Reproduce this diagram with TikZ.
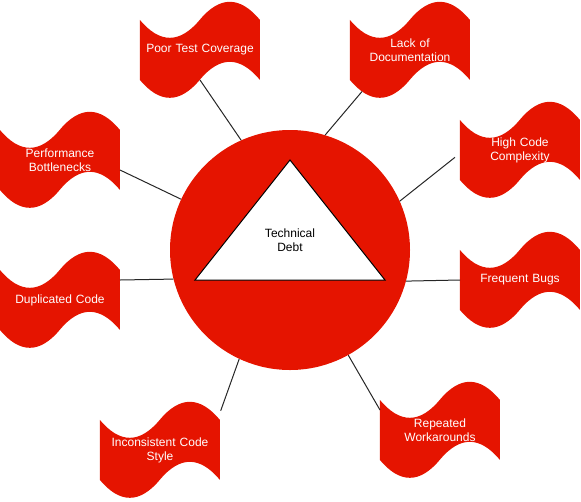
\documentclass[tikz,border=0pt]{standalone}
\usepackage{fontspec}
\setmainfont{Liberation Sans}
\usetikzlibrary{backgrounds}
\definecolor{tdred}{HTML}{E51400}

\tikzset{
    label text/.style = {font=\fontsize{12}{14}\selectfont, align=center},
    flag/.style = {label text, text=white, minimum width=120pt, minimum height=100pt,
        inner sep=0pt, text width=110pt},
}

\begin{document}
\begin{tikzpicture} [x=1pt, y=-1pt]
    \useasboundingbox (0,0) rectangle (581,501);
    \node (debt) [circle, fill=tdred, minimum size=240pt, inner sep=0pt] at (290,250) {};
    \draw [fill=white, line width=1pt, line join=miter] (290,160) -- (385,280) -- (195,280) -- cycle;
    \node (td) [label text] at (290,240) {Technical\\Debt};

    \node (ptc) [flag] at (200,50)  {Poor Test Coverage};
    \node (lod) [flag] at (410,50)  {Lack of\\Documentation};
    \node (pb)  [flag] at (60,160)  {Performance\\Bottlenecks};
    \node (hcc) [flag] at (520,150) {High Code\\Complexity};
    \node (dc)  [flag] at (60,300)  {Duplicated Code};
    \node (fb)  [flag] at (520,280) {Frequent Bugs};
    \node (ics) [flag] at (160,450) {Inconsistent Code\\Style};
    \node (rw)  [flag] at (440,430) {Repeated\\Workarounds};

    % wavy flag behind each label
    \begin{pgfonlayer}{background}
    \foreach \f in {ptc,lod,pb,hcc,dc,fb,ics,rw}
        \fill [tdred, shift={(\f.north west)}]
        (0,20) .. controls (20,44) and (40,44) .. (60,20)
        .. controls (80,-4) and (100,-4) .. (120,20) -- (120,80)
        .. controls (100,56) and (80,56) .. (60,80)
        .. controls (40,104) and (20,104) .. (0,80) -- cycle;
    \end{pgfonlayer}

    % connector ends on the flags
    \coordinate (ptc-out) at (200,80);
    \coordinate (lod-out) at (362,91.5);
    \coordinate (pb-out)  at (120,170);
    \coordinate (hcc-out) at (455,157.3);
    \coordinate (dc-out)  at (120,280);
    \coordinate (fb-out)  at (460,280);
    \coordinate (ics-out) at (220.7,410.7);
    \coordinate (rw-out)  at (380,410);

    \path [draw=black!85, line width=1pt]
    (ptc-out) edge (debt.114.6)
    (lod-out) edge (debt.73.7)
    (pb-out)  edge (debt.155.3)
    (hcc-out) edge (debt.24.1)
    (dc-out)  edge (debt.194.5)
    (fb-out)  edge (debt.345.5)
    (ics-out) edge (debt.245.5)
    (rw-out)  edge (debt.299.7);
\end{tikzpicture}
\end{document}
